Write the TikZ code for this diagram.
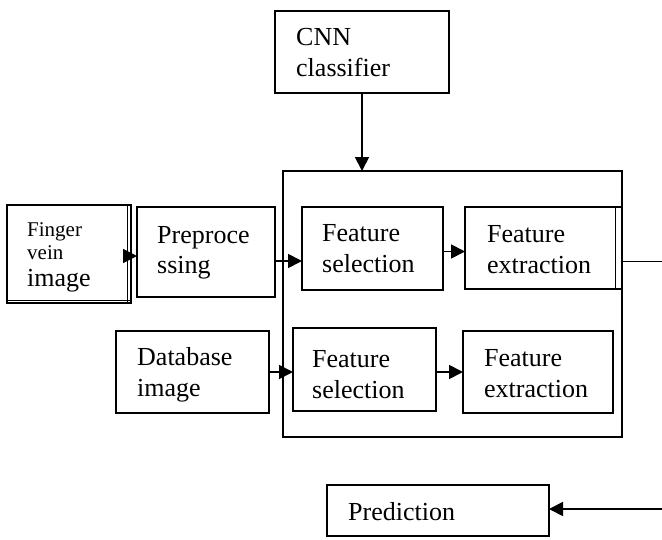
\documentclass[tikz,border=0pt]{standalone}
\usepackage{fontspec}
\setmainfont{Liberation Serif}
\usetikzlibrary{arrows.meta}
\begin{document}
\begin{tikzpicture}[x=1pt,y=-1pt,
  box/.style={draw,line width=1.5pt,rectangle,inner sep=0pt,outer sep=0pt},
  txt/.style={anchor=base west,inner sep=0pt,font=\fontsize{26}{30}\selectfont},
  stxt/.style={anchor=base west,inner sep=0pt,font=\fontsize{21}{24}\selectfont},
  arr/.style={line width=1.8pt,-{Triangle[length=14pt,width=14pt]}},
  thinline/.style={line width=0.8pt}]
\useasboundingbox (0,0) rectangle (662,539);
% boxes
\node[box,minimum width=174pt,minimum height=82pt] (cnn) at (362,52) {};
\node[box,minimum width=339pt,minimum height=266pt] (big) at (452.5,304) {};
\node[box,minimum width=124pt,minimum height=98pt] (finger) at (69,254) {};
\node[box,minimum width=138pt,minimum height=90pt] (prep) at (206,252) {};
\node[box,minimum width=141pt,minimum height=83pt] (fsa) at (372.5,248.5) {};
\node[box,minimum width=157pt,minimum height=82pt] (fea) at (543.5,248) {};
\node[box,minimum width=153pt,minimum height=82pt] (db) at (192.5,372) {};
\node[box,minimum width=143pt,minimum height=83pt] (fsb) at (364.5,369.5) {};
\node[box,minimum width=150pt,minimum height=82pt] (feb) at (538,372) {};
\node[box,minimum width=222pt,minimum height=51pt] (pred) at (438,510.5) {};
% double borders
\draw[thinline] ([xshift=-4pt]finger.north east) -- ([xshift=-4pt]finger.south east);
\draw[thinline] ([yshift=3pt]finger.south west) -- ([yshift=3pt]finger.south east);
\draw[thinline] ([xshift=-7pt]fea.north east) -- ([xshift=-7pt]fea.south east);
% texts
\node[txt] (cnnt) at (296,45) {CNN};
\node[txt] (cnnt2) at (296,76) {classifier};
\node[stxt] (fgt) at (27,236) {Finger};
\node[stxt] (fgt2) at (27,259) {vein};
\node[txt] (fgt3) at (27,286) {image};
\node[txt] (prt) at (157,243) {Preproce};
\node[txt] (prt2) at (157,273) {ssing};
\node[txt] (fsat) at (322,241) {Feature};
\node[txt] (fsat2) at (322,272) {selection};
\node[txt] (feat) at (487,242) {Feature};
\node[txt] (feat2) at (487,273) {extraction};
\node[txt] (dbt) at (137,365) {Database};
\node[txt] (dbt2) at (137,396) {image};
\node[txt] (fsbt) at (312,367) {Feature};
\node[txt] (fsbt2) at (312,398) {selection};
\node[txt] (febt) at (484,366) {Feature};
\node[txt] (febt2) at (484,397) {extraction};
\node[txt] (predt) at (348,520) {Prediction};
% coordinates
\coordinate (outa) at (662,261);
\coordinate (outb) at (662,509);
% connectors
\draw[arr] (cnn.south) -- (cnn.south |- big.north);
\draw[arr] ([xshift=-7pt,yshift=-2pt]finger.east) -- ([yshift=-2pt]finger.east -| prep.west);
\draw[arr] ([yshift=-9pt]prep.east) -- ([yshift=-9pt]prep.east -| fsa.west);
\draw[arr] ([yshift=-3pt]fsa.east) -- ([yshift=-3pt]fsa.east -| fea.west);
\draw[thinline] (big.east |- outa) -- (outa);
\draw[arr] (db.east) -- (db.east -| fsb.west);
\draw[arr] (feb.west -| fsb.east) -- (feb.west);
\draw[arr] (outb) -- (outb -| pred.east);
\end{tikzpicture}
\end{document}
